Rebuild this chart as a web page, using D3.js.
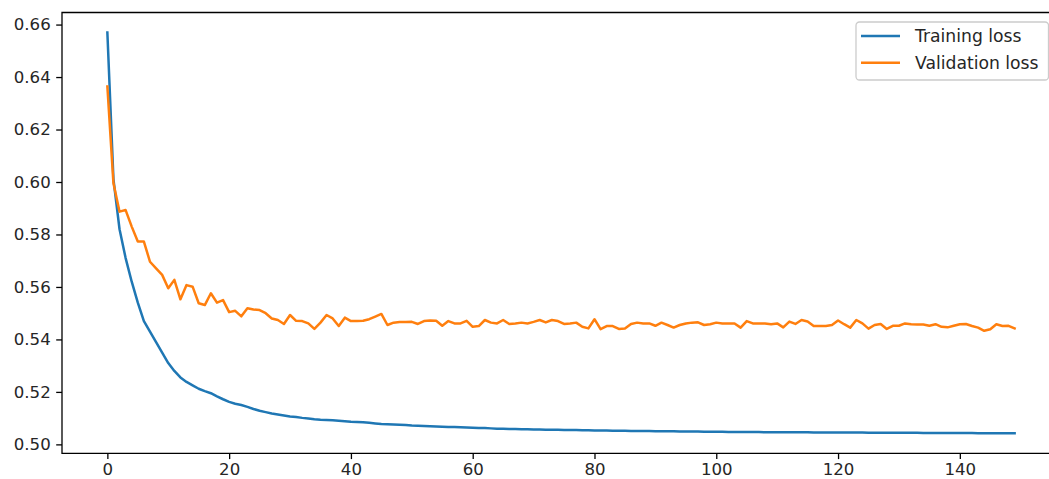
<!DOCTYPE html>
<html>
<head>
<meta charset="utf-8">
<script src="https://cdn.jsdelivr.net/npm/d3@7"></script>
<style>
  body { margin: 0; background: #fff; }
  svg { display: block; font-family: 'DejaVu Sans', sans-serif; }
</style>
</head>
<body>
<svg width="1049" height="479"></svg>
<script>
// loss per epoch
var trainingLoss = [
  0.6570, 0.6010, 0.5820, 0.5710, 0.5620, 0.5540, 0.5470, 0.5430, 0.5390, 0.5350,
  0.5310, 0.5280, 0.5255, 0.5238, 0.5225, 0.5212, 0.5203, 0.5195, 0.5183, 0.5172,
  0.5162, 0.5155, 0.5150, 0.5143, 0.5135, 0.5128, 0.5123, 0.5118, 0.5114, 0.5110,
  0.5106, 0.5104, 0.5101, 0.5099, 0.5096, 0.5094, 0.5093, 0.5092, 0.5090, 0.5088,
  0.5086, 0.5085, 0.5084, 0.5082, 0.5080, 0.5078, 0.5077, 0.5076, 0.5075, 0.5074,
  0.5072, 0.5071, 0.5070, 0.5069, 0.5068, 0.5067, 0.5066, 0.5066, 0.5065, 0.5064,
  0.5063, 0.5062, 0.5062, 0.5061, 0.5060, 0.5060, 0.5059, 0.5059, 0.5058, 0.5058,
  0.5057, 0.5057, 0.5056, 0.5056, 0.5056, 0.5055, 0.5055, 0.5055, 0.5054, 0.5054,
  0.5053, 0.5053, 0.5053, 0.5052, 0.5052, 0.5052, 0.5051, 0.5051, 0.5051, 0.5051,
  0.5050, 0.5050, 0.5050, 0.5050, 0.5049, 0.5049, 0.5049, 0.5049, 0.5048, 0.5048,
  0.5048, 0.5048, 0.5047, 0.5047, 0.5047, 0.5047, 0.5047, 0.5047, 0.5046, 0.5046,
  0.5046, 0.5046, 0.5046, 0.5046, 0.5046, 0.5046, 0.5045, 0.5045, 0.5045, 0.5045,
  0.5045, 0.5045, 0.5045, 0.5045, 0.5045, 0.5044, 0.5044, 0.5044, 0.5044, 0.5044,
  0.5044, 0.5044, 0.5044, 0.5044, 0.5043, 0.5043, 0.5043, 0.5043, 0.5043, 0.5043,
  0.5043, 0.5043, 0.5043, 0.5042, 0.5042, 0.5042, 0.5042, 0.5042, 0.5042, 0.5042
];

var validationLoss = [
  0.6364, 0.5995, 0.5887, 0.5893, 0.5830, 0.5773, 0.5773, 0.5696, 0.5671, 0.5646,
  0.5595, 0.5627, 0.5553, 0.5607, 0.5601, 0.5538, 0.5531, 0.5576, 0.5540, 0.5550,
  0.5504, 0.5509, 0.5488, 0.5519, 0.5514, 0.5512, 0.5500, 0.5480, 0.5474, 0.5459,
  0.5493, 0.5471, 0.5470, 0.5461, 0.5440, 0.5464, 0.5493, 0.5480, 0.5451, 0.5483,
  0.5470, 0.5470, 0.5471, 0.5477, 0.5487, 0.5497, 0.5455, 0.5464, 0.5466, 0.5466,
  0.5467, 0.5459, 0.5470, 0.5472, 0.5471, 0.5452, 0.5470, 0.5461, 0.5461, 0.5471,
  0.5448, 0.5451, 0.5474, 0.5464, 0.5461, 0.5474, 0.5459, 0.5461, 0.5464, 0.5461,
  0.5467, 0.5474, 0.5465, 0.5474, 0.5470, 0.5459, 0.5461, 0.5464, 0.5448, 0.5442,
  0.5477, 0.5439, 0.5451, 0.5451, 0.5440, 0.5442, 0.5459, 0.5464, 0.5461, 0.5461,
  0.5452, 0.5464, 0.5455, 0.5445, 0.5455, 0.5461, 0.5464, 0.5465, 0.5455, 0.5458,
  0.5464, 0.5461, 0.5461, 0.5461, 0.5445, 0.5470, 0.5461, 0.5461, 0.5461, 0.5458,
  0.5461, 0.5446, 0.5468, 0.5459, 0.5474, 0.5468, 0.5451, 0.5451, 0.5451, 0.5455,
  0.5472, 0.5458, 0.5445, 0.5474, 0.5461, 0.5441, 0.5455, 0.5459, 0.5440, 0.5452,
  0.5452, 0.5461, 0.5458, 0.5457, 0.5457, 0.5452, 0.5458, 0.5448, 0.5446, 0.5452,
  0.5458, 0.5459, 0.5451, 0.5445, 0.5433, 0.5439, 0.5458, 0.5451, 0.5452, 0.5442
];

var xTicks = [0, 20, 40, 60, 80, 100, 120, 140];
var yTicks = [0.50, 0.52, 0.54, 0.56, 0.58, 0.60, 0.62, 0.64, 0.66];
var seriesNames = ['Training loss', 'Validation loss'];
var seriesColors = ['#1f77b4', '#ff7f0e'];

var svg = d3.select('svg');
var fontSize = 16.6;
var legendFontSize = 17.2;
var tickLen = 5.8;

// matplotlib style 5% margins; the right spine falls off the picture
var x = d3.scaleLinear().domain([-7.45, 156.45]).range([62, 1060]);
var y = d3.scaleLinear().domain([0.4966, 0.6646]).range([453.3, 12.5]);

var line = d3
  .line()
  .x(function(d, i) {
    return x(i);
  })
  .y(function(d) {
    return y(d);
  });

svg
  .selectAll('path.series')
  .data([trainingLoss, validationLoss])
  .enter()
  .append('path')
  .attr('class', 'series')
  .attr('d', line)
  .attr('fill', 'none')
  .attr('stroke', function(d, i) {
    return seriesColors[i];
  })
  .attr('stroke-width', 2.5)
  .attr('stroke-linejoin', 'round')
  .attr('stroke-linecap', 'square');

// axes
var xAxis = d3
  .axisBottom(x)
  .tickValues(xTicks)
  .tickSize(tickLen)
  .tickPadding(4.5)
  .tickFormat(d3.format('d'));

var yAxis = d3
  .axisLeft(y)
  .tickValues(yTicks)
  .tickSize(tickLen)
  .tickPadding(5.5)
  .tickFormat(d3.format('.2f'));

var gx = svg
  .append('g')
  .attr('transform', 'translate(0,' + y.range()[0] + ')')
  .call(xAxis);

var gy = svg
  .append('g')
  .attr('transform', 'translate(' + x.range()[0] + ',0)')
  .call(yAxis);

[gx, gy].forEach(function(g) {
  g.select('.domain').remove();
  g.selectAll('line').attr('stroke', '#000').attr('stroke-width', 1.3);
  g.selectAll('text')
    .attr('fill', '#262626')
    .style('font-size', fontSize + 'px')
    .style('font-family', "'DejaVu Sans', sans-serif");
});

// spines (left, top, bottom)
svg
  .append('path')
  .attr('d', d3.line()([
    [x.range()[1], y.range()[1]],
    [x.range()[0], y.range()[1]],
    [x.range()[0], y.range()[0]],
    [x.range()[1], y.range()[0]]
  ]))
  .attr('fill', 'none')
  .attr('stroke', '#000')
  .attr('stroke-width', 1.3);

// legend
var legend = svg.append('g');

legend
  .append('rect')
  .attr('x', 856)
  .attr('y', 22)
  .attr('width', 192.5)
  .attr('height', 58)
  .attr('rx', 3.5)
  .attr('fill', '#fff')
  .attr('fill-opacity', 0.8)
  .attr('stroke', '#cccccc')
  .attr('stroke-width', 1.3);

var item = legend
  .selectAll('g.item')
  .data(seriesNames)
  .enter()
  .append('g')
  .attr('class', 'item')
  .attr('transform', function(d, i) {
    return 'translate(0,' + (36 + i * 26.7) + ')';
  });

item
  .append('line')
  .attr('x1', 861)
  .attr('x2', 900)
  .attr('stroke', function(d, i) {
    return seriesColors[i];
  })
  .attr('stroke-width', 2.5);

item
  .append('text')
  .attr('x', 915)
  .attr('y', 6.2)
  .attr('fill', '#262626')
  .style('font-size', legendFontSize + 'px')
  .text(function(d) {
    return d;
  });
</script>
</body>
</html>
